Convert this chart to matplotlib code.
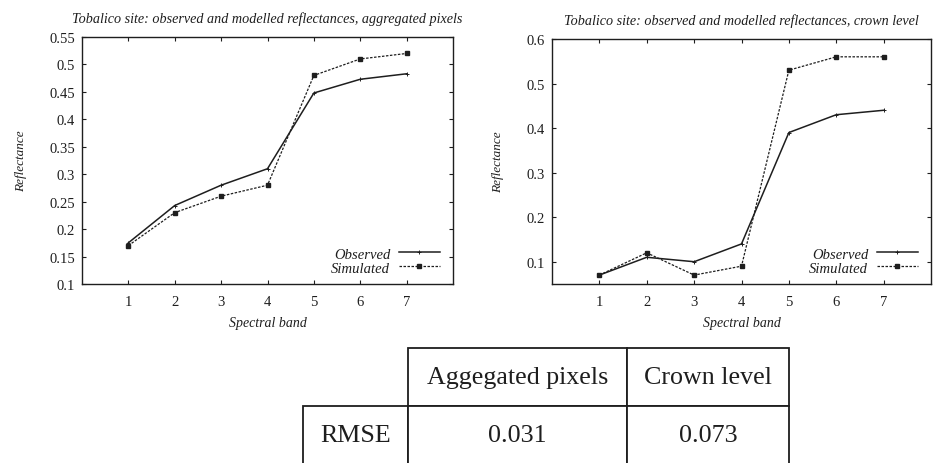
import numpy as np
import matplotlib
matplotlib.use("Agg")
import matplotlib.pyplot as plt

plt.rcParams['font.family'] = ['Liberation Serif', 'DejaVu Serif']

# data
bands = [1, 2, 3, 4, 5, 6, 7]
agg_observed = [0.175, 0.243, 0.280, 0.310, 0.448, 0.473, 0.483]
agg_simulated = [0.170, 0.230, 0.260, 0.280, 0.480, 0.510, 0.520]
crown_observed = [0.07, 0.11, 0.10, 0.14, 0.39, 0.43, 0.44]
crown_simulated = [0.07, 0.12, 0.07, 0.09, 0.53, 0.56, 0.56]

agg_yticks = [0.1, 0.15, 0.2, 0.25, 0.3, 0.35, 0.4, 0.45, 0.5, 0.55]
agg_ylabels = ['0.1', '0.15', '0.2', '0.25', '0.3', '0.35', '0.4', '0.45', '0.5', '0.55']
crown_yticks = [0.1, 0.2, 0.3, 0.4, 0.5, 0.6]
crown_ylabels = ['0.1', '0.2', '0.3', '0.4', '0.5', '0.6']

titles = ["Tobalico site: observed and modelled reflectances, aggregated pixels",
          "Tobalico site: observed and modelled reflectances, crown level"]

table_cols = ["", "Aggegated pixels", "Crown level"]
table_row = ["RMSE", "0.031", "0.073"]

W, H = 933, 464
fig = plt.figure(figsize=(W / 100, H / 100), dpi=100)
ink = '#1e1e1e'


def px_axes(x0, y0, x1, y1):
    # pixel box (top-left origin) -> figure axes
    return fig.add_axes([x0 / W, (H - y1) / H, (x1 - x0) / W, (y1 - y0) / H])


def panel(ax, obs, sim, yticks, ylabels, ylim, title):
    ax.plot(bands, obs, color=ink, lw=1.1, marker='+', ms=3.5, mew=0.7, label='Observed')
    ax.plot(bands, sim, color=ink, lw=0.9, ls=(0, (2, 1.2)), marker='s', ms=2.3,
            label='Simulated')
    ax.set_xlim(0, 8)
    ax.set_ylim(*ylim)
    ax.set_xticks(bands)
    ax.set_yticks(yticks)
    ax.set_yticklabels(ylabels)
    ax.tick_params(direction='in', top=True, right=True, length=3, width=0.8,
                   labelsize=10.5, colors=ink, pad=8)
    ax.tick_params(axis='y', pad=5)
    for s in ax.spines.values():
        s.set_linewidth(1.0)
        s.set_color(ink)
    ax.set_title(title, fontsize=10.2, style='italic', color=ink, pad=11)
    ax.set_xlabel('Spectral band', fontsize=10, style='italic', color=ink, labelpad=6)
    ax.set_ylabel('Reflectance', fontsize=9.5, style='italic', color=ink, labelpad=16)
    leg = ax.legend(loc='lower right', bbox_to_anchor=(0.99, 0.0), frameon=False,
                    markerfirst=False, prop={'style': 'italic', 'size': 10.5},
                    handlelength=2.8, labelspacing=0.05, handletextpad=0.6,
                    borderaxespad=0.25)
    for t in leg.get_texts():
        t.set_color(ink)


ax1 = px_axes(82, 38, 453, 285)
panel(ax1, agg_observed, agg_simulated, agg_yticks, agg_ylabels, (0.1, 0.55), titles[0])

ax2 = px_axes(552, 40, 931, 285)
panel(ax2, crown_observed, crown_simulated, crown_yticks, crown_ylabels, (0.05, 0.6), titles[1])

# RMSE table
tax = px_axes(303, 349, 789, 465)
tax.axis('off')
tab = tax.table(cellText=[table_cols, table_row], cellLoc='center',
                colWidths=[105 / 486, 219 / 486, 162 / 486], bbox=[0, 0, 1, 1])
tab.auto_set_font_size(False)
for (r, c), cell in tab.get_celld().items():
    cell.set_linewidth(1.3)
    cell.set_edgecolor(ink)
    cell.get_text().set_fontsize(18.7)
    cell.get_text().set_color(ink)
tab[0, 0].visible_edges = ''

fig.savefig('out.png', dpi=100)
